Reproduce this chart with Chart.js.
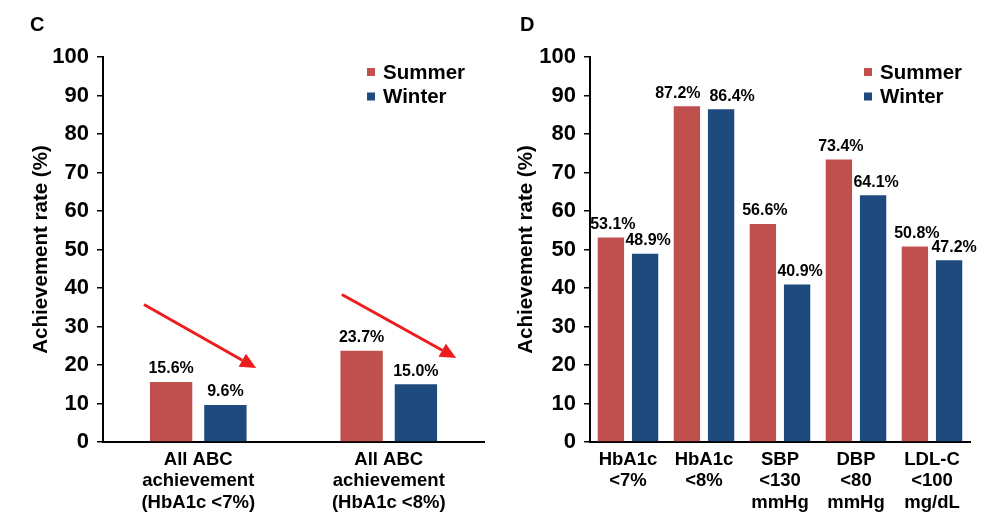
<!DOCTYPE html>
<html><head><meta charset="utf-8">
<script src="https://cdn.jsdelivr.net/npm/chart.js@4/dist/chart.umd.min.js"></script>
<style>
html,body{margin:0;padding:0;background:#fff;}
#wrap{position:relative;width:1000px;height:524px;overflow:hidden;}
.panel{position:absolute;top:0;width:500px;height:524px;}
</style></head><body>
<div id="wrap">
<div class="panel" style="left:0"><canvas id="c1" width="500" height="524"></canvas></div>
<div class="panel" style="left:500px"><canvas id="c2" width="500" height="524"></canvas></div>
</div>
<script>
// ---- data ----
const seriesNames = ["Summer", "Winter"];
const catsC = [["All ABC","achievement","(HbA1c <7%)"],["All ABC","achievement","(HbA1c <8%)"]];
const summerC = [15.6, 23.7];
const winterC = [9.6, 15.0];
const catsD = [["HbA1c","<7%"],["HbA1c","<8%"],["SBP","<130","mmHg"],["DBP","<80","mmHg"],["LDL-C","<100","mg/dL"]];
const summerD = [53.1, 87.2, 56.6, 73.4, 50.8];
const winterD = [48.9, 86.4, 40.9, 64.1, 47.2];
const yMin = 0, yMax = 100, yStep = 10;
const yTitle = "Achievement rate (%)";
// trend arrows for panel C (category index, value)
const arrowsC = [{from:[-0.285,35.7], to:[0.304,19.2]}, {from:[0.754,38.3], to:[1.354,21.8]}];

const FONT = "'Liberation Sans', Arial, sans-serif";
const RED = '#C0504D', BLUE = '#1F4A7E';
Chart.defaults.font.family = FONT;

function extrasPlugin(cfg) {
  return {
    id: 'extras_' + cfg.letter,
    afterDatasetsDraw(chart) {
      const ctx = chart.ctx;
      ctx.save();
      // value labels
      ctx.fillStyle = '#000';
      ctx.font = 'bold 16px ' + FONT;
      ctx.textAlign = 'center';
      ctx.textBaseline = 'bottom';
      chart.data.datasets.forEach((ds, di) => {
        const meta = chart.getDatasetMeta(di);
        const dx = (cfg.labelDx && cfg.labelDx[di]) || [];
        meta.data.forEach((bar, i) => {
          ctx.fillText(ds.data[i].toFixed(1) + '%', bar.x + (dx[i] || 0), bar.y - 5);
        });
      });
      // arrows
      const xs = chart.scales.x, ys = chart.scales.y;
      (cfg.arrows || []).forEach(a => {
        const x0 = xs.getPixelForValue(a.from[0]), y0 = ys.getPixelForValue(a.from[1]);
        const x1 = xs.getPixelForValue(a.to[0]), y1 = ys.getPixelForValue(a.to[1]);
        const ang = Math.atan2(y1 - y0, x1 - x0);
        const hl = 16, hw = 7.5;
        const bx = x1 - hl * Math.cos(ang), by = y1 - hl * Math.sin(ang);
        ctx.strokeStyle = '#EE1C1C';
        ctx.fillStyle = '#EE1C1C';
        ctx.lineWidth = 3;
        ctx.beginPath(); ctx.moveTo(x0, y0); ctx.lineTo(bx, by); ctx.stroke();
        ctx.beginPath();
        ctx.moveTo(x1, y1);
        ctx.lineTo(bx + hw * Math.sin(ang), by - hw * Math.cos(ang));
        ctx.lineTo(bx - hw * Math.sin(ang), by + hw * Math.cos(ang));
        ctx.closePath(); ctx.fill();
      });
      // legend
      ctx.textAlign = 'left';
      ctx.textBaseline = 'middle';
      ctx.font = 'bold 20.5px ' + FONT;
      chart.data.datasets.forEach((ds, di) => {
        const y = cfg.legendY + di * 24.5;
        ctx.fillStyle = ds.backgroundColor;
        ctx.fillRect(cfg.legendX, y - 4, 8, 8);
        ctx.fillStyle = '#000';
        ctx.fillText(ds.label, cfg.legendX + 16, y + 1);
      });
      // panel letter
      ctx.font = 'bold 20px ' + FONT;
      ctx.textBaseline = 'middle';
      ctx.fillText(cfg.letter, cfg.letterX, 25);
      ctx.restore();
    }
  };
}

function makeChart(id, cats, s, w, cfg) {
  return new Chart(document.getElementById(id), {
    type: 'bar',
    data: {
      labels: cats,
      datasets: [
        {label: seriesNames[0], data: s, backgroundColor: RED, barPercentage: cfg.bp, categoryPercentage: cfg.cp},
        {label: seriesNames[1], data: w, backgroundColor: BLUE, barPercentage: cfg.bp, categoryPercentage: cfg.cp}
      ]
    },
    options: {
      responsive: false,
      animation: false,
      layout: {padding: {left: cfg.padL, right: cfg.padR, top: 57, bottom: 0}},
      plugins: {legend: {display: false}, tooltip: {enabled: false}},
      scales: {
        x: {
          grid: {display: false, drawTicks: false},
          border: {display: true, color: '#000', width: 2},
          ticks: {color: '#000', font: {size: 18.5, weight: 'bold', lineHeight: 1.16}, padding: 7, maxRotation: 0, autoSkip: false},
          afterFit: (sc) => { sc.height = 82; }
        },
        y: {
          min: yMin, max: yMax,
          ticks: {stepSize: yStep, color: '#000', font: {size: 22, weight: 'bold'}, padding: 8},
          grid: {drawOnChartArea: false, drawTicks: true, tickLength: 6, color: '#000', lineWidth: 1.5},
          border: {display: true, color: '#000', width: 2},
          title: {display: true, text: yTitle, color: '#000', font: {size: 20.5, weight: 'bold'}, padding: {top: 1, bottom: 0}},
          afterFit: (sc) => { sc.width = cfg.axisW; }
        }
      }
    },
    plugins: [extrasPlugin(cfg)]
  });
}

makeChart('c1', catsC, summerC, winterC, {
  letter: 'C', letterX: 30, padL: 28, axisW: 75, padR: 16, bp: 0.78, cp: 0.57,
  legendX: 367, legendY: 72, arrows: arrowsC
});
makeChart('c2', catsD, summerD, winterD, {
  letter: 'D', letterX: 20, padL: 13, axisW: 77, padR: 30, bp: 0.77, cp: 0.9,
  legendX: 364, legendY: 72, arrows: [],
  labelDx: [[2, -9, 2, 2, 2], [3, 11, 3, 3, 5]]
});
</script>
</body></html>
